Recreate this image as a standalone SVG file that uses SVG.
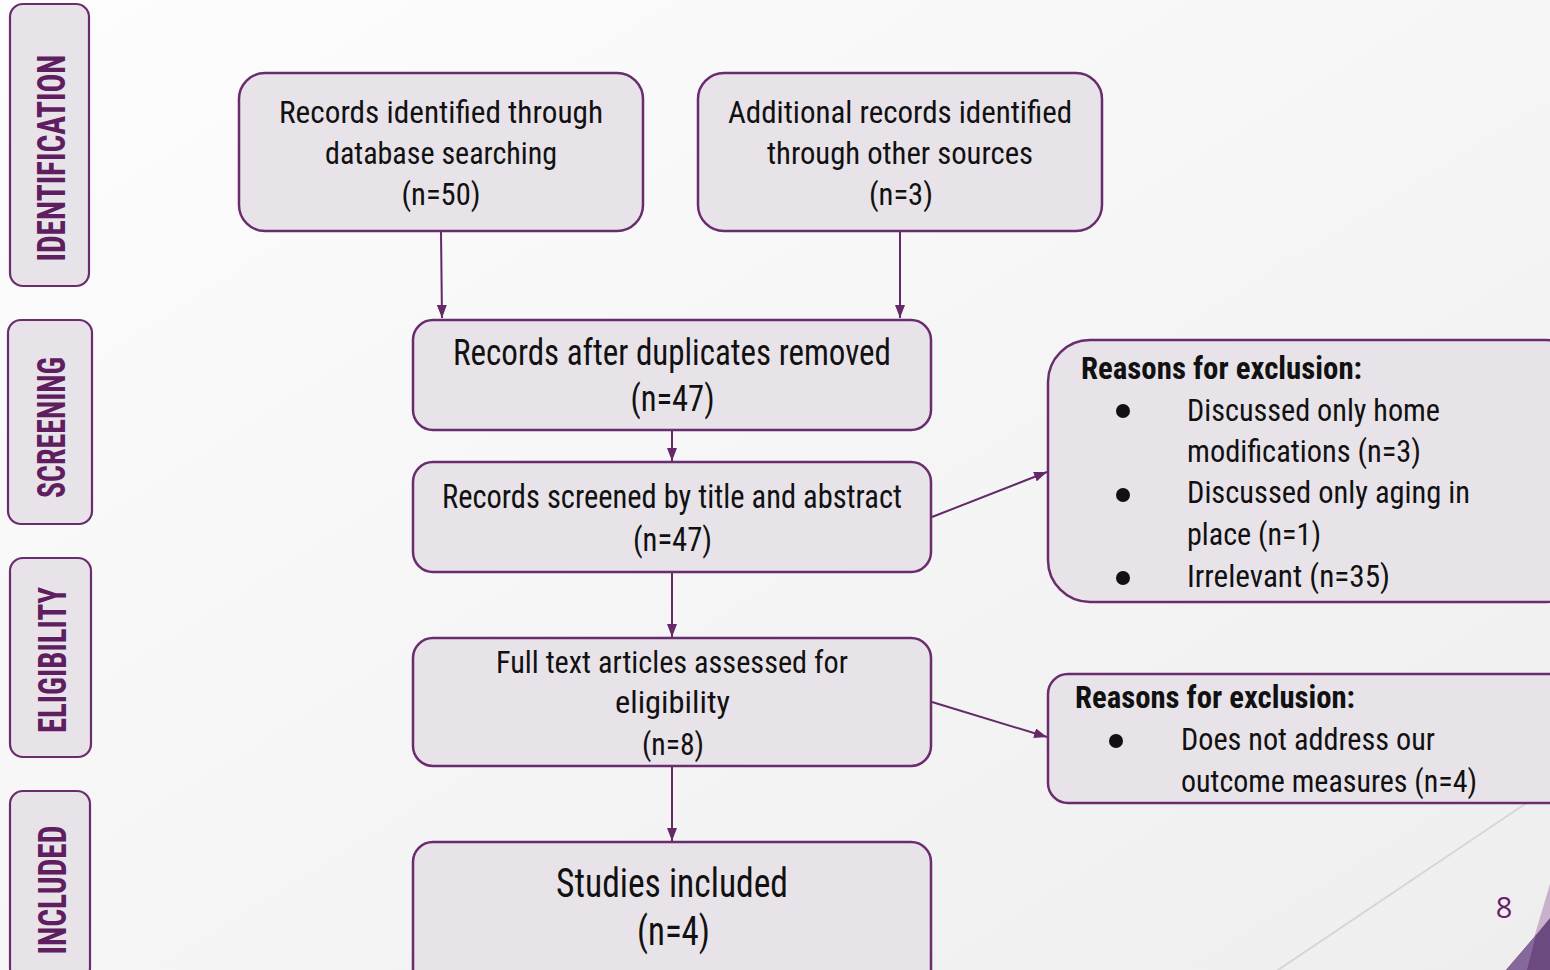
<svg xmlns="http://www.w3.org/2000/svg" width="1550" height="970" viewBox="0 0 1550 970">
<defs>
<linearGradient id="bg" x1="0" y1="0" x2="1" y2="1">
<stop offset="0" stop-color="#fdfdfd"/>
<stop offset="1" stop-color="#eeeeee"/>
</linearGradient>
<marker id="ah" viewBox="0 0 13 10" refX="13" refY="5" markerWidth="13" markerHeight="10" markerUnits="userSpaceOnUse" orient="auto">
<path d="M0,0 L13,5 L0,10 z" fill="#642a68"/>
</marker>
<style>
.box{fill:#e8e3e9;stroke:#6a2c6e;stroke-width:2.5}
.side{fill:#e8e3e9;stroke:#6a2c6e;stroke-width:2.2}
.t{font-family:"Liberation Sans Narrow","Roboto Condensed","DejaVu Sans Condensed","Liberation Sans",sans-serif;fill:#111111;text-anchor:middle}
.l{font-family:"Liberation Sans Narrow","Roboto Condensed","DejaVu Sans Condensed","Liberation Sans",sans-serif;fill:#111111}
.b{font-weight:bold}
.sl{font-family:"Liberation Sans Narrow","Roboto Condensed","DejaVu Sans Condensed","Liberation Sans",sans-serif;font-weight:bold;fill:#5e1e60;text-anchor:middle;font-size:38px}
.c{stroke:#642a68;stroke-width:2;fill:none}
</style>
</defs>
<rect x="0" y="0" width="1550" height="970" fill="url(#bg)"/>
<line x1="1275" y1="972" x2="1528" y2="802" stroke="#d6d6d6" stroke-width="2"/>
<polygon points="1550,884 1533,941 1550,926" fill="#c7b1cb"/>
<polygon points="1506,970 1536,935 1550,918 1550,970" fill="#6c4a7f"/>
<polygon points="1506,970 1536,935 1527,970" fill="#86689a"/>
<text x="1504" y="918" font-family="'Open Sans','Noto Sans',sans-serif" font-size="29" fill="#6a1b6e" text-anchor="middle">8</text>

<g id="side-identification">
<rect class="side" x="10" y="4" width="79" height="282" rx="13"/>
<text class="sl" transform="translate(65,158) rotate(-90)" textLength="207" lengthAdjust="spacingAndGlyphs">IDENTIFICATION</text>
</g>
<g id="side-screening">
<rect class="side" x="8" y="320" width="84" height="204" rx="13"/>
<text class="sl" transform="translate(65,427.5) rotate(-90)" textLength="141" lengthAdjust="spacingAndGlyphs">SCREENING</text>
</g>
<g id="side-eligibility">
<rect class="side" x="10" y="558" width="81" height="199" rx="13"/>
<text class="sl" transform="translate(66,660) rotate(-90)" textLength="146" lengthAdjust="spacingAndGlyphs">ELIGIBILITY</text>
</g>
<g id="side-included">
<rect class="side" x="10" y="791" width="80" height="190" rx="13"/>
<text class="sl" transform="translate(66,890) rotate(-90)" textLength="129" lengthAdjust="spacingAndGlyphs">INCLUDED</text>
</g>

<g id="connectors">
<line class="c" x1="441" y1="232" x2="442" y2="318" marker-end="url(#ah)"/>
<line class="c" x1="900" y1="232" x2="900" y2="318" marker-end="url(#ah)"/>
<line class="c" x1="672" y1="431" x2="672" y2="461" marker-end="url(#ah)"/>
<line class="c" x1="672" y1="573" x2="672" y2="637" marker-end="url(#ah)"/>
<line class="c" x1="672" y1="766" x2="672" y2="841" marker-end="url(#ah)"/>
<line class="c" x1="932" y1="517" x2="1047" y2="472" marker-end="url(#ah)"/>
<line class="c" x1="932" y1="702" x2="1047" y2="737" marker-end="url(#ah)"/>
</g>

<g id="n-db">
<rect class="box" x="239" y="73" width="404" height="158" rx="26"/>
<text class="t" font-size="32" x="441" y="123" textLength="324" lengthAdjust="spacingAndGlyphs">Records identified through</text>
<text class="t" font-size="32" x="441" y="164" textLength="232" lengthAdjust="spacingAndGlyphs">database searching</text>
<text class="t" font-size="32" x="441" y="205" textLength="79" lengthAdjust="spacingAndGlyphs">(n=50)</text>
</g>
<g id="n-other">
<rect class="box" x="698" y="73" width="404" height="158" rx="26"/>
<text class="t" font-size="32" x="900" y="123" textLength="344" lengthAdjust="spacingAndGlyphs">Additional records identified</text>
<text class="t" font-size="32" x="900" y="164" textLength="266" lengthAdjust="spacingAndGlyphs">through other sources</text>
<text class="t" font-size="32" x="901" y="205" textLength="64" lengthAdjust="spacingAndGlyphs">(n=3)</text>
</g>
<g id="n-dup">
<rect class="box" x="413" y="320" width="518" height="110" rx="20"/>
<text class="t" font-size="36" x="672" y="365" textLength="438" lengthAdjust="spacingAndGlyphs">Records after duplicates removed</text>
<text class="t" font-size="36" x="672.5" y="411" textLength="84" lengthAdjust="spacingAndGlyphs">(n=47)</text>
</g>
<g id="n-screen">
<rect class="box" x="413" y="462" width="518" height="110" rx="20"/>
<text class="t" font-size="33" x="672" y="508" textLength="460" lengthAdjust="spacingAndGlyphs">Records screened by title and abstract</text>
<text class="t" font-size="33" x="672.5" y="551" textLength="79" lengthAdjust="spacingAndGlyphs">(n=47)</text>
</g>
<g id="n-full">
<rect class="box" x="413" y="638" width="518" height="128" rx="20"/>
<text class="t" font-size="32" x="672" y="673" textLength="352" lengthAdjust="spacingAndGlyphs">Full text articles assessed for</text>
<text class="t" font-size="32" x="672.5" y="713" textLength="115" lengthAdjust="spacingAndGlyphs">eligibility</text>
<text class="t" font-size="32" x="673" y="755" textLength="62" lengthAdjust="spacingAndGlyphs">(n=8)</text>
</g>
<g id="n-included">
<rect class="box" x="413" y="842" width="518" height="160" rx="20"/>
<text class="t" font-size="40" x="672" y="897" textLength="232" lengthAdjust="spacingAndGlyphs">Studies included</text>
<text class="t" font-size="40" x="673.5" y="945" textLength="73" lengthAdjust="spacingAndGlyphs">(n=4)</text>
</g>

<g id="n-excl1">
<rect class="box" x="1048" y="340" width="540" height="262" rx="42"/>
<text class="l b" font-size="31" x="1081" y="379" textLength="281" lengthAdjust="spacingAndGlyphs">Reasons for exclusion:</text>
<circle cx="1123" cy="411" r="7" fill="#111"/>
<circle cx="1123" cy="495" r="7" fill="#111"/>
<circle cx="1123" cy="578" r="7" fill="#111"/>
<text class="l" font-size="31" x="1187" y="421" textLength="253" lengthAdjust="spacingAndGlyphs">Discussed only home</text>
<text class="l" font-size="31" x="1187" y="462" textLength="234" lengthAdjust="spacingAndGlyphs">modifications (n=3)</text>
<text class="l" font-size="31" x="1187" y="503" textLength="283" lengthAdjust="spacingAndGlyphs">Discussed only aging in</text>
<text class="l" font-size="31" x="1187" y="545" textLength="134" lengthAdjust="spacingAndGlyphs">place (n=1)</text>
<text class="l" font-size="31" x="1187" y="587" textLength="203" lengthAdjust="spacingAndGlyphs">Irrelevant (n=35)</text>
</g>
<g id="n-excl2">
<rect class="box" x="1048" y="674" width="540" height="129" rx="20"/>
<text class="l b" font-size="31" x="1075" y="708" textLength="280" lengthAdjust="spacingAndGlyphs">Reasons for exclusion:</text>
<circle cx="1116" cy="741" r="7" fill="#111"/>
<text class="l" font-size="31" x="1181" y="750" textLength="254" lengthAdjust="spacingAndGlyphs">Does not address our</text>
<text class="l" font-size="31" x="1181" y="792" textLength="296" lengthAdjust="spacingAndGlyphs">outcome measures (n=4)</text>
</g>
</svg>
